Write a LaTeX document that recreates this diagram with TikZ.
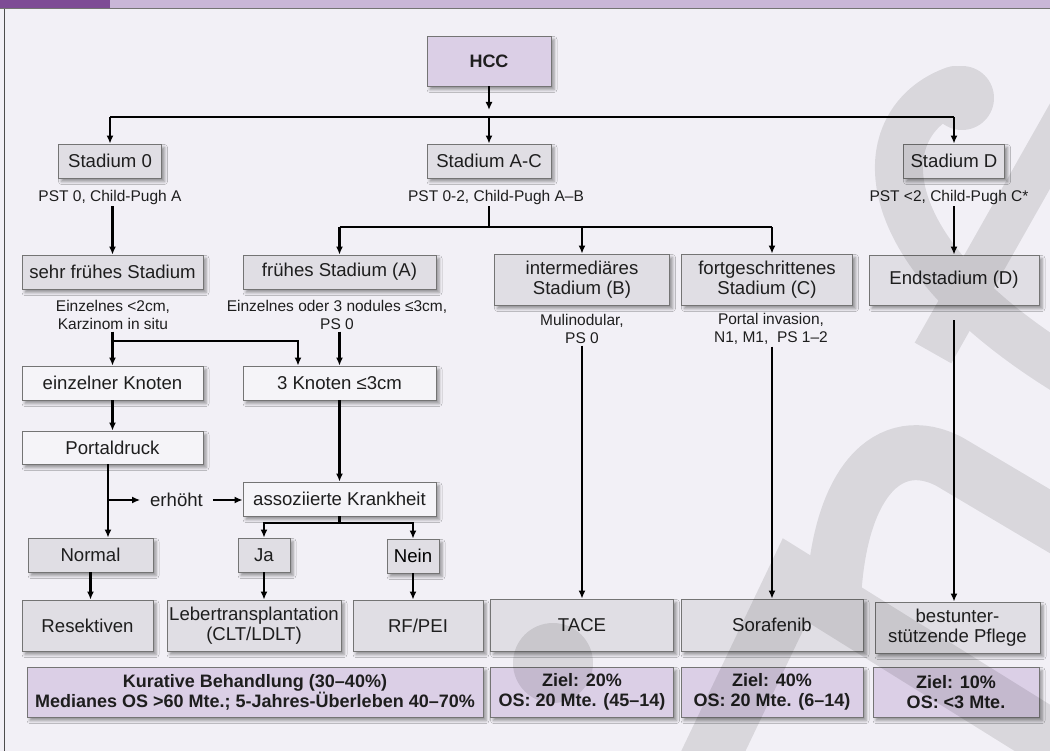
\documentclass[tikz,border=0pt]{standalone}
\usepackage{fontspec}
\setmainfont{Liberation Sans}
\usetikzlibrary{positioning,calc,arrows.meta,shadows.blur}

\definecolor{bgpage}{HTML}{F2F0F6}
\definecolor{barlila}{HTML}{C9B6D7}
\definecolor{bardark}{HTML}{7E4C95}
\definecolor{boxgray}{HTML}{E0DEE4}
\definecolor{boxlight}{HTML}{F5F4F8}
\definecolor{boxlila}{HTML}{DBCFE6}
\definecolor{boxline}{HTML}{747474}
\definecolor{inkgray}{HTML}{1E1E1E}

\newcommand{\boxfont}{\fontsize{18.6}{20}\selectfont}
\newcommand{\notefont}{\fontsize{15.5}{17.5}\selectfont}
\newcommand{\headfont}{\fontsize{18}{20}\selectfont\bfseries}

\tikzset{
  box/.style={draw=boxline, line width=0.8pt, fill=boxgray, inner sep=2pt,
    align=center, font=\boxfont, minimum height=34pt,
    blur shadow={shadow xshift=3pt, shadow yshift=-3.5pt, shadow blur radius=3pt, shadow opacity=40}},
  lightbox/.style={box, fill=boxlight},
  headbox/.style={box, fill=boxlila, font=\headfont},
  endbox/.style={box, fill=boxlila, font=\headfont},
  note/.style={align=center, font=\notefont, inner sep=2pt},
  conn/.style={line width=2.1pt, draw=black},
  arr/.style={conn, -{Latex[length=8pt,width=7pt]}},
}

\begin{document}
\begin{tikzpicture}[x=1pt, y=-1pt, every node/.style={text=inkgray}]
    % page
    \useasboundingbox (0,0) rectangle (1050,751);
    \fill[bgpage] (0,0) rectangle (1050,751);
    \fill[barlila] (0,0) rectangle (1050,8);
    \fill[bardark] (0,0) rectangle (110,8);
    \draw[boxline, line width=1.2pt] (0,8.6) -- (1050,8.6);
    \draw[black!70, line width=1pt] (4.8,8.6) -- (4.8,751);

    % stages
    \node[headbox, minimum width=124pt, minimum height=50pt] (hcc) at (489,61) {HCC};
    \node[box, minimum width=103pt] (st0) at (110,161) {Stadium 0};
    \node[box, minimum width=124pt] (stac) at (489,161) {Stadium A-C};
    \node[box, minimum width=101pt] (std) at (954,161) {Stadium D};
    \node[note] (pst0) at (110,197) {PST 0, Child-Pugh A};
    \node[note] (pstac) at (496,197) {PST 0-2, Child-Pugh A–B};
    \node[note] (pstd) at (949,197) {PST <2, Child-Pugh C*};

    \node[box, minimum width=181pt] (sfs) at (112.5,272) {sehr frühes Stadium};
    \node[box, minimum width=193pt] (fs) at (339.5,272) {frühes Stadium (A)};
    \node[box, minimum width=175pt, minimum height=51pt] (imb) at (582,279.5) {intermediäres\\Stadium (B)};
    \node[box, minimum width=171pt, minimum height=51pt] (fgc) at (767,279.5) {fortgeschrittenes\\Stadium (C)};
    \node[box, minimum width=170pt, minimum height=50pt] (ends) at (954,280) {Endstadium (D)};
    \node[note] (nsfs) at (113,315) {Einzelnes <2cm,\\Karzinom in situ};
    \node[note] (nfs) at (337,315) {Einzelnes oder 3 nodules ≤3cm,\\PS 0};
    \node[note] (nimb) at (582,329) {Mulinodular,\\PS 0};
    \node[note] (nfgc) at (771,329) {Portal invasion,\\N1, M1,\ \ PS 1–2};

    % early branch
    \node[lightbox, minimum width=181pt] (ek) at (112.5,383) {einzelner Knoten};
    \node[lightbox, minimum width=193pt] (k3) at (339.5,383) {3 Knoten ≤3cm};
    \node[lightbox, minimum width=181pt, minimum height=33pt] (pd) at (112.5,447.5) {Portaldruck};
    \node[lightbox, minimum width=193pt] (ak) at (339.5,499) {assoziierte Krankheit};
    \node[font=\boxfont, inner sep=0pt, outer xsep=10pt] (erh) at (176.5,500) {erhöht};
    \node[box, minimum width=125pt] (nor) at (90.5,555) {Normal};
    \node[box, minimum width=52pt] (ja) at (264,555) {Ja};
    \node[box, minimum width=52pt, text=black] (nein) at (413,556) {Nein};

    % therapy
    \node[box, minimum width=131pt, minimum height=51pt] (res) at (87.5,625.5) {Resektiven};
    \node[box, minimum width=174pt, minimum height=51pt] (lt) at (254,625.5) {Lebertransplantation\\(CLT/LDLT)};
    \node[box, minimum width=130pt, minimum height=51pt] (rf) at (418,625.5) {RF/PEI};
    \node[box, minimum width=183pt, minimum height=52pt] (tace) at (582,625) {TACE};
    \node[box, minimum width=182pt, minimum height=52pt] (sor) at (772,625) {Sorafenib};
    \node[box, minimum width=165pt, minimum height=51pt] (bsp) at (957.5,627.5) {bestunter-\\stützende Pflege};

    % outcome
    \node[endbox, minimum width=456pt, minimum height=50pt] (kur) at (255,692) {Kurative Behandlung (30–40\%)\\Medianes OS >60 Mte.; 5-Jahres-Überleben 40–70\%};
    \node[endbox, minimum width=183pt, minimum height=50pt] (z20) at (582,692) {Ziel: 20\%\\OS: 20 Mte. (45–14)};
    \node[endbox, minimum width=182pt, minimum height=50pt] (z40) at (772,692) {Ziel: 40\%\\OS: 20 Mte. (6–14)};
    \node[endbox, minimum width=166pt, minimum height=50pt] (z10) at (956,692) {Ziel: 10\%\\OS: <3 Mte.};

    % connectors
    \coordinate (hcctip) at (489,110);
    \coordinate (busl) at (110,117);
    \coordinate (busr) at (954,117);
    \coordinate (subl) at (339.5,227);
    \coordinate (subr) at (772,227);
    \coordinate (split) at (298,341);
    \coordinate (akbus) at (339.5,523);
    \coordinate (pdx) at ([xshift=-4.5pt]pd.south);

    \draw[arr] (hcc) -- (hcctip);
    \draw[conn] (busl) -- (busr);
    \draw[arr] (busl) -- (st0);
    \draw[arr] (busl -| hcc) -- (stac);
    \draw[arr] (busr) -- (std);
    \draw[arr] (sfs.north |- pst0.south) -- (sfs);
    \draw[conn] (stac.south |- pstac.south) -- (stac.south |- subl);
    \draw[conn] (subl) -- (subr);
    \draw[arr] (subl) -- (fs);
    \draw[arr] (subl -| imb) -- (imb);
    \draw[arr] (subr) -- (subr |- fgc.north);
    \draw[arr] (std.south |- pstd.south) -- (ends);
    \draw[arr] (ek.north |- nsfs.south) -- (ek);
    \draw[arr] (ek.north |- split) -| (split |- k3.north);
    \draw[arr] (k3.north |- nfs.south) -- (k3);
    \draw[arr] (ek) -- (pd);
    \draw[arr] (k3) -- (ak);
    \draw[arr] (pdx) -- (pdx |- nor.north);
    \draw[arr] (pdx |- erh) -- (erh);
    \draw[arr] (erh.east) -- (erh.east -| ak.west);
    \draw[conn] (ak) -- (akbus);
    \draw[arr] (akbus) -| (ja);
    \draw[arr] (akbus) -| (nein);
    \draw[arr] (nor) -- (nor |- res.north);
    \draw[arr] (ja) -- (ja |- lt.north);
    \draw[arr] (nein) -- (nein |- rf.north);
    \draw[arr] (nimb) -- (tace);
    \draw[arr] (sor.north |- nfgc.south) -- (sor);
    \draw[arr] ([yshift=-15pt]ends.south) -- (ends.south |- bsp.north);

    % watermark
    \begin{scope}[transparency group, opacity=0.1]
      \clip (0,9) rectangle (1050,751);
      \fill (962,98) circle (32pt);
      \draw[line width=48pt, line cap=round] (955,90) .. controls (870,120) and (860,250) .. (1080,380);
      \draw[line width=42pt] (1110,40) -- (933,353);
      \draw[line width=55pt] (833,615) .. controls (835,480) and (890,430) .. (950,462) -- (1090,545);
      \draw[line width=58pt, line join=miter] (690,800) -- (795,580) -- (1100,770);
      \fill (553,663) circle (40pt);
    \end{scope}
\end{tikzpicture}
\end{document}
